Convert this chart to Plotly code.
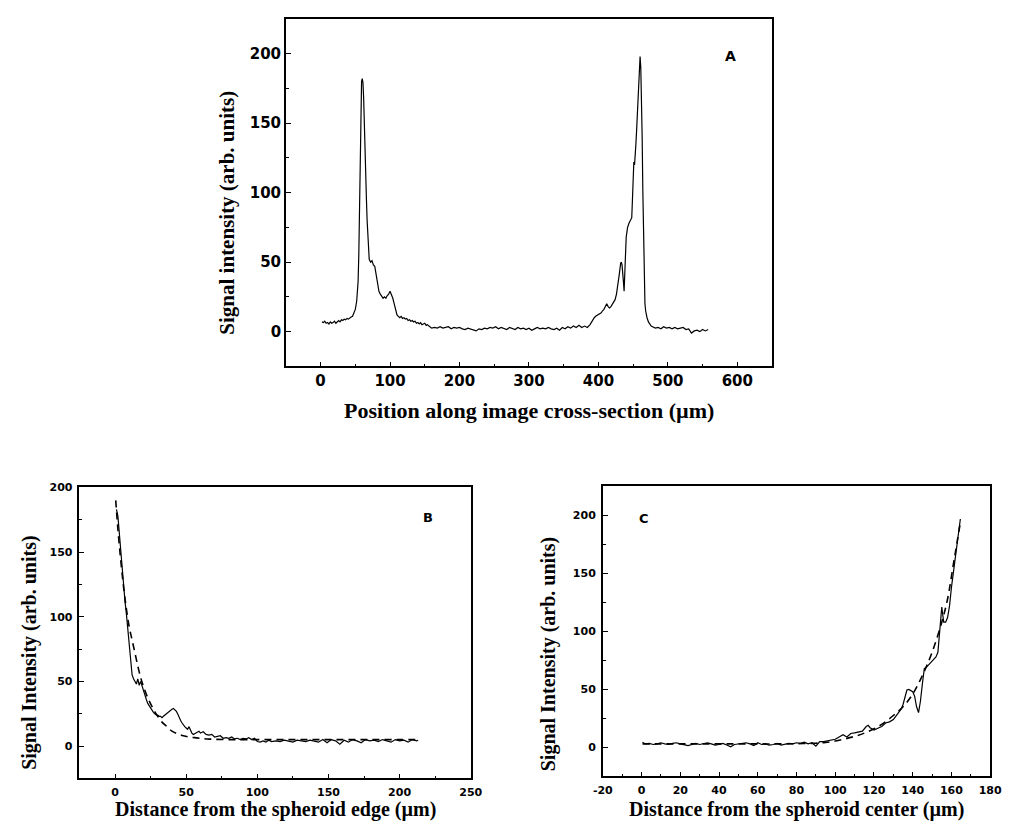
import plotly.graph_objects as go

# ---------------- Panel A: intensity profile across the image ----------------
a_x = [2, 4, 6, 8, 10, 12, 14, 16, 18, 20, 22, 24, 26, 28, 30, 32, 34, 36, 38, 40, 42, 44, 46,
       48, 50, 52, 53, 54, 55, 56, 57, 58, 59, 60, 61, 62, 63, 64, 65, 66, 67, 68, 69, 70, 72, 74,
       76, 78, 80, 82, 84, 86, 88, 90, 92, 94, 96, 98, 100, 102, 104, 106, 108, 110,
       112, 114, 116, 118, 120, 122, 124, 126, 128, 130, 132, 134, 136, 138, 140, 142, 144, 146,
       148, 150, 152, 154, 156, 158, 160,
       164, 168, 172, 176, 180, 184, 188, 192, 196, 200, 204, 208, 212, 216, 220, 224, 228, 232,
       236, 240, 244, 248, 252, 256, 260, 264, 268, 272, 276, 280, 284, 288, 292, 296, 300, 304,
       308, 312, 316, 320, 324, 328, 332, 336, 340, 344, 348, 352, 356, 360, 364, 368, 372, 376,
       380, 384,
       388, 390, 392, 394, 396, 398, 400, 402, 404, 406, 408, 410, 412, 414, 416, 418, 420, 422,
       424, 426, 428, 430, 432, 433, 434, 435, 436, 437, 438, 439, 440, 441, 442, 444, 446, 448,
       449, 450, 451, 452, 453, 454, 455, 456, 457, 458, 459, 460, 461, 462, 463, 464, 465, 466,
       467, 468, 469, 470, 472, 474, 476, 478, 480,
       482, 486, 490, 494, 498, 502, 506, 510, 514, 518, 522, 526, 530, 534, 538, 542, 546, 550,
       554, 558]
a_y = [7, 6.5, 7.5, 6, 6.5, 5.5, 7, 6, 6.5, 7.5, 6, 7, 8, 7, 8.5, 8, 9, 8.5, 9.5, 9, 10, 10.5, 11,
       13, 16, 22, 28, 36, 55, 90, 135, 165, 180, 182, 179, 168, 145, 122, 108, 95, 80, 66, 56, 52,
       50, 51, 48, 47, 41, 33, 29, 27, 25, 24, 25, 24, 26, 27, 29, 27, 24, 20, 16, 12,
       11, 10, 11, 9.5, 10, 9, 9.5, 8, 8.5, 7.5, 8, 7, 7.5, 6, 6.5, 5.5, 6.5, 5, 5.5, 6, 4.5, 5,
       4, 3, 2.5,
       3, 2.5, 3.5, 2.5, 3, 3.5, 2, 3, 2.5, 3, 2, 1.5, 2.5, 2, 1, 0.5, 2, 1.5, 2.5, 2, 3, 2.5, 3.5,
       2, 3, 2.5, 1.5, 3, 2, 1.5, 3, 2, 2.5, 1.5, 2.5, 1, 2, 3, 2, 2.5, 2, 3, 2, 1.5, 2.5, 1, 3, 2,
       3.5, 2.5, 4, 3, 4.5, 3, 4, 3,
       5, 7, 9, 10, 11, 11.5, 12.5, 13, 13.5, 15, 16, 18, 20, 18, 17, 18, 20, 21, 23, 27, 33, 41,
       49, 50, 48, 44, 36, 29, 38, 55, 68, 72, 75, 78, 80, 82, 95, 118, 122, 120, 126, 135, 145,
       158, 168, 180, 192, 198, 190, 170, 140, 100, 62, 35, 20, 15, 12, 10, 7, 5, 4, 3.5, 3,
       2.5, 3, 2, 3.5, 2.5, 3, 2, 3, 2, 2.5, 3, 1.5, 2, -1, 0.5, 1, 0, 1.5, 0.5, 1.5]

# ---------------- Panel B: profile vs distance from the edge ----------------
b_x = [1, 2, 3, 4, 5, 6, 7, 8, 9, 10, 11, 12, 13, 14, 15, 16, 17, 18, 19, 20, 21, 22, 23, 24,
       25, 26, 27, 28, 29, 30, 31, 32, 33, 34, 35, 36, 37, 38, 39, 40, 41, 42, 43, 44, 45, 46,
       47, 48, 49, 50, 51, 52, 53, 54, 55, 56, 57, 58, 59,
       60, 62, 64, 66, 68, 70, 72, 74, 76, 78, 80, 82, 84, 86, 88, 90, 92, 94, 96, 98, 100, 102,
       104, 106, 108, 110, 113, 116, 119, 122, 125, 128, 131, 134, 137, 140, 143, 146, 149, 152,
       155, 158, 161, 164, 167, 170, 173, 176, 179, 182, 185, 188, 191, 194, 197, 200, 203, 206,
       209, 212, 213]
b_y = [183, 178, 165, 150, 138, 125, 112, 102, 90, 80, 68, 55, 52, 50, 48, 52, 47, 50, 46, 43,
       40, 36, 33, 31, 29, 28, 26, 25, 24, 24, 23, 23, 22, 23, 24, 25, 26, 27, 28, 28.5, 29, 28,
       27, 25, 22, 20, 18, 16, 15, 14, 13, 15, 12, 10, 9, 9.5, 10, 11, 11.5,
       10, 11, 9, 8.5, 9, 7, 7.5, 8, 6, 6.5, 6, 7, 5.5, 6, 5, 6, 5.5, 6.5, 5, 6, 3.5, 3,
       4, 3, 4.5, 3.5, 4, 3.5, 4.5, 4, 3, 4.5, 4, 3.5, 4.5, 4, 3, 5, 2.5, 5,
       4, 1.5, 4.5, 3, 5, 4, 2.5, 5, 4, 4.5, 3.5, 5, 4, 3, 5, 4, 4.5, 3,
       5, 4, 4.5]
b_fit_x = [0.5, 2, 4, 6, 8, 10, 12, 14, 16, 18, 20, 22, 24, 26, 28, 30, 33, 36, 40, 44, 48, 52,
           56, 60, 65, 70, 80, 90, 100, 120, 140, 160, 180, 200, 213]
b_fit_y = [190, 168, 144, 123, 106, 92, 82, 72, 62, 53, 46, 40, 35, 30.5, 26.5, 23, 18.5, 15.5,
           11.5, 9.5, 8, 7, 6.5, 6, 5.5, 5.2, 5, 5, 5, 5, 5, 5, 5, 5, 5]

# ---------------- Panel C: profile vs distance from the center ----------------
c_x = [0.5, 2, 4, 6, 8, 10, 12, 14, 16, 18, 20, 22, 24, 26, 28, 30, 32, 34, 36, 38, 40, 42, 44,
       46, 48, 50, 52, 54, 56, 58, 60, 62, 64, 66, 68, 70, 72, 74, 76, 78, 80, 82, 84, 86, 88, 90,
       92, 94, 96, 98, 100, 102, 104, 106, 108, 110, 112, 114, 116, 117, 118, 120, 122, 124, 126,
       128, 130, 132, 134, 135, 136, 137, 138, 139, 140, 141, 142, 143, 144, 145, 146, 147, 148,
       150, 152, 153, 154, 155, 156, 157, 158, 159, 160, 161, 162, 163, 164, 164.6]
c_y = [4.5, 3, 3.5, 2.5, 3, 4, 3, 2.5, 3.5, 4, 3, 2, 1.5, 2.5, 3.5, 2.5, 3, 4, 3, 2, 2.5, 3.5, 2,
       0.5, 2.5, 3, 3.5, 4, 3, 1.5, 4, 2.5, 3, 2, 2.5, 3.5, 2, 3, 3.5, 3, 4, 3.5, 4.5, 3, 4, 1,
       5, 5, 5.5, 6, 7, 9, 11, 9, 12, 12.5, 13, 14, 18, 19, 17, 15, 16.5, 18, 21,
       22, 24, 28, 33, 37, 43, 49.5, 50, 49, 48, 44, 35, 30, 40, 55, 68, 69, 71,
       74, 78, 82, 100, 121, 108, 108, 112, 122, 138, 150, 162, 175, 188, 197]
c_fit_x = [0.5, 10, 20, 30, 40, 50, 60, 70, 80, 90, 95, 100, 105, 110, 115, 120, 125, 130, 135,
           140, 145, 150, 155, 158, 161, 163, 164.8]
c_fit_y = [3, 3, 3, 3, 3, 3, 3, 3, 3.2, 3.6, 4.3, 5.5, 7.3, 9.5, 12.3, 16, 21, 27.5, 35,
           46, 62, 82, 108, 128, 158, 178, 196]

# ---------------- tick labels ----------------
a_xticks = [0, 100, 200, 300, 400, 500, 600]
a_yticks = [0, 50, 100, 150, 200]
b_xticks = [0, 50, 100, 150, 200, 250]
b_yticks = [0, 50, 100, 150, 200]
c_xticks = [-20, 0, 20, 40, 60, 80, 100, 120, 140, 160, 180]
c_yticks = [0, 50, 100, 150, 200]

FIG_W, FIG_H = 1011, 828
TICK_FONT = "DejaVu Sans"
TITLE_FONT = "Liberation Serif"

fig = go.Figure()
fig.add_trace(go.Scatter(x=a_x, y=a_y, mode="lines", line=dict(color="black", width=1.2),
                         xaxis="x", yaxis="y", showlegend=False))
fig.add_trace(go.Scatter(x=b_x, y=b_y, mode="lines", line=dict(color="black", width=1.2),
                         xaxis="x2", yaxis="y2", showlegend=False))
fig.add_trace(go.Scatter(x=b_fit_x, y=b_fit_y, mode="lines", line_shape="spline",
                         line=dict(color="black", width=1.6, dash="7px,5px"),
                         xaxis="x2", yaxis="y2", showlegend=False))
fig.add_trace(go.Scatter(x=c_x, y=c_y, mode="lines", line=dict(color="black", width=1.2),
                         xaxis="x3", yaxis="y3", showlegend=False))
fig.add_trace(go.Scatter(x=c_fit_x, y=c_fit_y, mode="lines", line_shape="spline",
                         line=dict(color="black", width=1.6, dash="7px,5px"),
                         xaxis="x3", yaxis="y3", showlegend=False))


def px_x(a, b):
    return [a / FIG_W, b / FIG_W]


def px_y(top, bottom):
    return [1 - bottom / FIG_H, 1 - top / FIG_H]


def axis(domain, rng, ticks, minor, size, anchor, standoff=3):
    return dict(domain=domain, range=rng, anchor=anchor,
                tickmode="array", tickvals=ticks,
                ticktext=["<b>%d</b>" % t for t in ticks],
                showline=True, linecolor="black", linewidth=1.6, mirror=True,
                ticks="inside", ticklen=5, tickwidth=1.2, tickcolor="black",
                minor=dict(dtick=minor, tick0=0, ticks="inside", ticklen=3,
                           tickwidth=1, tickcolor="black"),
                showgrid=False, zeroline=False, ticklabelstandoff=standoff,
                tickfont=dict(family=TICK_FONT, size=size, color="black"))


layout = dict(
    width=FIG_W, height=FIG_H, margin=dict(l=0, r=0, t=0, b=0),
    paper_bgcolor="white", plot_bgcolor="white", showlegend=False,
    xaxis=axis(px_x(282, 779), [-50, 650], a_xticks, 50, 15, "y", 0),
    yaxis=axis(px_y(13, 363), [-25, 225], a_yticks, 25, 15, "x", 0),
    xaxis2=axis(px_x(71, 471), [-25, 250], b_xticks, 25, 11, "y2"),
    yaxis2=axis(px_y(485, 778), [-25, 200], b_yticks, 25, 11, "x2"),
    xaxis3=axis(px_x(606, 1002), [-20, 180], c_xticks, 10, 11, "y3"),
    yaxis3=axis(px_y(484, 776), [-25, 225], c_yticks, 25, 11, "x3"),
)
fig.update_layout(**layout)

title_font = dict(family=TITLE_FONT, size=22, color="black", weight="bold")
label_font = dict(family=TICK_FONT, size=14, color="black", weight="bold")


def px_paper_y(py):
    return 1 - py / FIG_H


annotations = [
    # axis titles
    dict(text="Position along image cross-section (\u00b5m)", xref="x domain", x=0.5,
         yref="paper", y=px_paper_y(407), showarrow=False, font=title_font,
         xanchor="center", yanchor="middle"),
    dict(text="Signal intensity (arb. units)", xref="paper", x=222 / FIG_W,
         yref="paper", y=px_paper_y(208), textangle=-90, showarrow=False,
         font=dict(title_font, size=21), xanchor="center", yanchor="middle"),
    dict(text="Distance from the spheroid edge (\u00b5m)", xref="x2 domain", x=0.5,
         yref="paper", y=px_paper_y(809), showarrow=False, font=dict(title_font, size=20),
         xanchor="center", yanchor="middle"),
    dict(text="Signal Intensity (arb. units)", xref="paper", x=20 / FIG_W,
         yref="paper", y=px_paper_y(651), textangle=-90, showarrow=False,
         font=dict(title_font, size=20), xanchor="center", yanchor="middle"),
    dict(text="Distance from the spheroid center (\u00b5m)", xref="x3 domain", x=0.5,
         yref="paper", y=px_paper_y(809), showarrow=False, font=dict(title_font, size=20),
         xanchor="center", yanchor="middle"),
    dict(text="Signal Intensity (arb. units)", xref="paper", x=550 / FIG_W,
         yref="paper", y=px_paper_y(653), textangle=-90, showarrow=False,
         font=dict(title_font, size=20), xanchor="center", yanchor="middle"),
    # panel letters
    dict(text="A", xref="x", yref="y", x=590, y=198, showarrow=False, font=label_font),
    dict(text="B", xref="x2", yref="y2", x=220, y=177, showarrow=False,
         font=dict(label_font, size=13)),
    dict(text="C", xref="x3", yref="y3", x=1.5, y=197, showarrow=False,
         font=dict(label_font, size=13)),
]
fig.update_layout(annotations=annotations)

fig.write_html("out.html")
